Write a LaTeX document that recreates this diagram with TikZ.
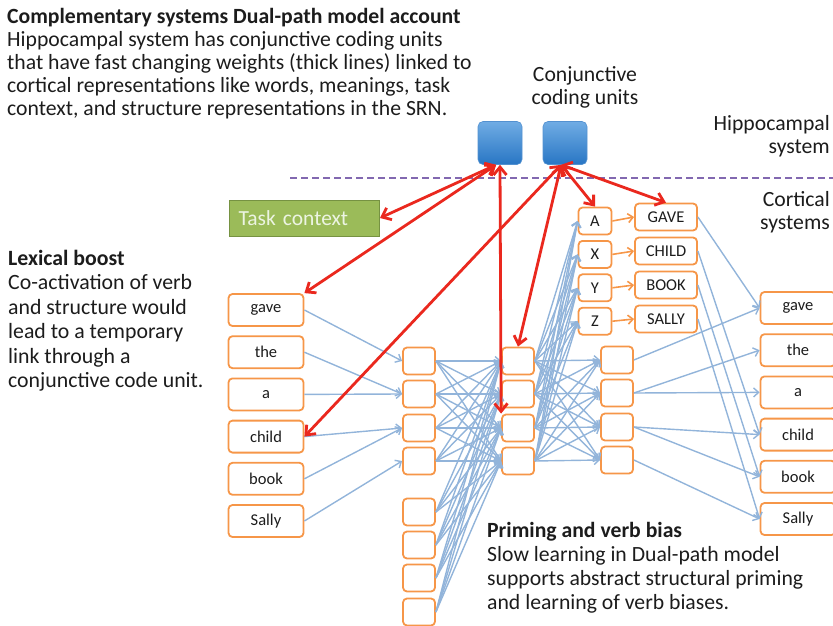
\documentclass[tikz,border=0pt]{standalone}
\usepackage{fontspec}
\setmainfont{Carlito}
\usepackage{tikz}
\usetikzlibrary{arrows.meta}
\tikzstyle{canvas} = [x = 1pt, y = -1pt]
\definecolor{boxOrange}{RGB}{246,150,72}
\definecolor{linkBlue}{RGB}{146,180,218}
\definecolor{fastRed}{RGB}{234,40,30}
\definecolor{taskGreen}{RGB}{155,187,89}
\definecolor{taskGreenDark}{RGB}{118,146,66}
\definecolor{taskText}{RGB}{236,244,226}
\definecolor{unitBlueTop}{RGB}{112,172,228}
\definecolor{unitBlueBottom}{RGB}{40,118,196}
\definecolor{borderPurple}{RGB}{130,104,176}
\definecolor{textDark}{RGB}{28,28,28}
\tikzstyle{unitStyle} = [draw=boxOrange, fill=white, rounded corners = 4pt, line width = 1.8pt, inner sep = 0pt, text=textDark]
\tikzstyle{wordBox} = [unitStyle, minimum width = 75pt, minimum height = 32pt, font=\fontsize{16.5}{18}\selectfont]
\tikzstyle{hiddenBox} = [unitStyle, minimum width = 32pt, minimum height = 27pt]
\tikzstyle{roleBox} = [unitStyle, minimum width = 33pt, minimum height = 27pt, font=\fontsize{16.5}{18}\selectfont]
\tikzstyle{conceptBox} = [unitStyle, minimum width = 62pt, minimum height = 27pt, font=\fontsize{16.5}{18}\selectfont]
\tikzstyle{codingUnit} = [rounded corners = 5pt, top color=unitBlueTop, bottom color=unitBlueBottom, draw=unitBlueBottom!80!white, line width = .6pt, minimum width = 44pt, minimum height = 43pt]
\tikzstyle{taskBox} = [fill=taskGreen, draw=taskGreenDark, line width = 1pt, text width = 132pt, minimum height = 36pt, inner xsep = 9pt, align=left, text=taskText, font=\fontsize{21.5}{24}\selectfont]
\tikzstyle{slowLink} = [draw=linkBlue, line width = 1.4pt, -{Straight Barb[length=5pt, width=9pt]}]
\tikzstyle{roleLink} = [draw=boxOrange, line width = 1.6pt, -{Straight Barb[length=5pt, width=9pt]}]
\tikzstyle{fastLink} = [draw=fastRed, line width = 2.8pt, {Straight Barb[length=8pt, width=13pt]}-{Straight Barb[length=8pt, width=13pt]}]
\tikzstyle{borderLine} = [draw=borderPurple, line width = 2pt, dash pattern = on 7pt off 4pt]
\tikzstyle{bodyText} = [align=left, inner sep = 0pt, anchor=north west, text=textDark]
\tikzstyle{sideLabel} = [inner sep = 0pt, text=textDark, font=\fontsize{21.7}{23}\selectfont]
\newcommand{\fullLinks}[4]{
  \foreach \from in {1,...,#2} {
    \foreach \to in {1,...,#4} {
      \draw [slowLink] (#1\from.east) -- (#3\to.west);
    }
  }
}

\begin{document}
\begin{tikzpicture}[canvas]
  \useasboundingbox (0,0) rectangle (833,626);

  % system border
  \coordinate (borderStart) at (290,178);
  \coordinate (borderEnd) at (833,178);
  \draw [borderLine] (borderStart) -- (borderEnd);

  % texts
  \node [bodyText, font=\fontsize{21.7}{23}\selectfont] (accountText) at (7,8) {\textbf{Complementary systems Dual-path model account}\\Hippocampal system has conjunctive coding units\\that have fast changing weights (thick lines) linked to\\cortical representations like words, meanings, task\\context, and structure representations in the SRN.};
  \node [bodyText, font=\fontsize{21.8}{24.5}\selectfont] (boostText) at (8,250) {\textbf{Lexical boost}\\Co-activation of verb\\and structure would\\lead to a temporary\\link through a\\conjunctive code unit.};
  \node [bodyText, font=\fontsize{21.7}{24}\selectfont] (primingText) at (487,522) {\textbf{Priming and verb bias}\\Slow learning in Dual-path model\\supports abstract structural priming\\and learning of verb biases.};
  \node [sideLabel, align=center, anchor=north] (unitLabel) at (585,66) {Conjunctive\\coding units};
  \node [sideLabel, align=right, anchor=north east] (hippoLabel) at (830,115) {Hippocampal\\system};
  \node [sideLabel, align=right, anchor=north east] (cortexLabel) at (830,191) {Cortical\\systems};

  % hippocampal units and task context
  \node [codingUnit] (unit1) at (500,143) {};
  \node [codingUnit] (unit2) at (565,143) {};
  \node [taskBox, anchor=west] (task) at (229,218) {Task context};

  % word layers
  \foreach \word [count=\i] in {gave,the,a,child,book,Sally} {
    \pgfmathsetmacro{\wordY}{310 + (\i - 1) * 42.2}
    \node [wordBox] (inWord\i) at (266,\wordY) {\word};
    \node [wordBox] (outWord\i) at (798,\wordY - 2) {\word};
  }

  % hidden layers
  \foreach \y [count=\i] in {361,394,428,461,512,545,578,612} {
    \node [hiddenBox] (hidA\i) at (419,\y) {};
  }
  \foreach \y [count=\i] in {361,394,428,461} {
    \node [hiddenBox] (hidB\i) at (518,\y) {};
    \node [hiddenBox] (hidC\i) at (617,\y - 1) {};
  }

  % roles and concepts
  \foreach \role/\concept [count=\i] in {A/GAVE,X/CHILD,Y/BOOK,Z/SALLY} {
    \pgfmathsetmacro{\roleY}{221 + (\i - 1) * 33.4}
    \pgfmathsetmacro{\conceptY}{217 + (\i - 1) * 34}
    \node [roleBox] (role\i) at (595,\roleY) {\role};
    \node [conceptBox] (concept\i) at (666,\conceptY) {\concept};
    \draw [roleLink] (role\i.east) -- (concept\i.west);
  }

  % slow weights
  \foreach \w/\h in {1/1,2/2,3/2,4/3,5/3,6/4} {
    \draw [slowLink] (inWord\w.east) -- (hidA\h.west);
  }
  \fullLinks{hidA}{8}{hidB}{4}
  \fullLinks{hidB}{4}{hidC}{4}
  \fullLinks{hidB}{4}{role}{4}
  \foreach \h/\w in {1/1,2/2,2/3,3/4,3/5,4/6} {
    \draw [slowLink] (hidC\h.east) -- (outWord\w.west);
  }
  \foreach \c/\w in {1/1,2/4,3/5,4/6} {
    \draw [slowLink] (concept\c.east) -- (outWord\w.west);
  }

  % fast weights
  \draw [fastLink] (unit1.-100) -- (task.east);
  \draw [fastLink] (unit1.-100) -- (inWord1.north east);
  \draw [fastLink] (unit1.south) -- (hidB3.north west);
  \draw [fastLink] (unit2.-100) -- (inWord4.east);
  \draw [fastLink] (unit2.-100) -- (hidB1.north);
  \draw [fastLink] (unit2.-100) -- (role1.north);
  \draw [fastLink] (unit2.-100) -- (concept1.north);
\end{tikzpicture}
\end{document}
